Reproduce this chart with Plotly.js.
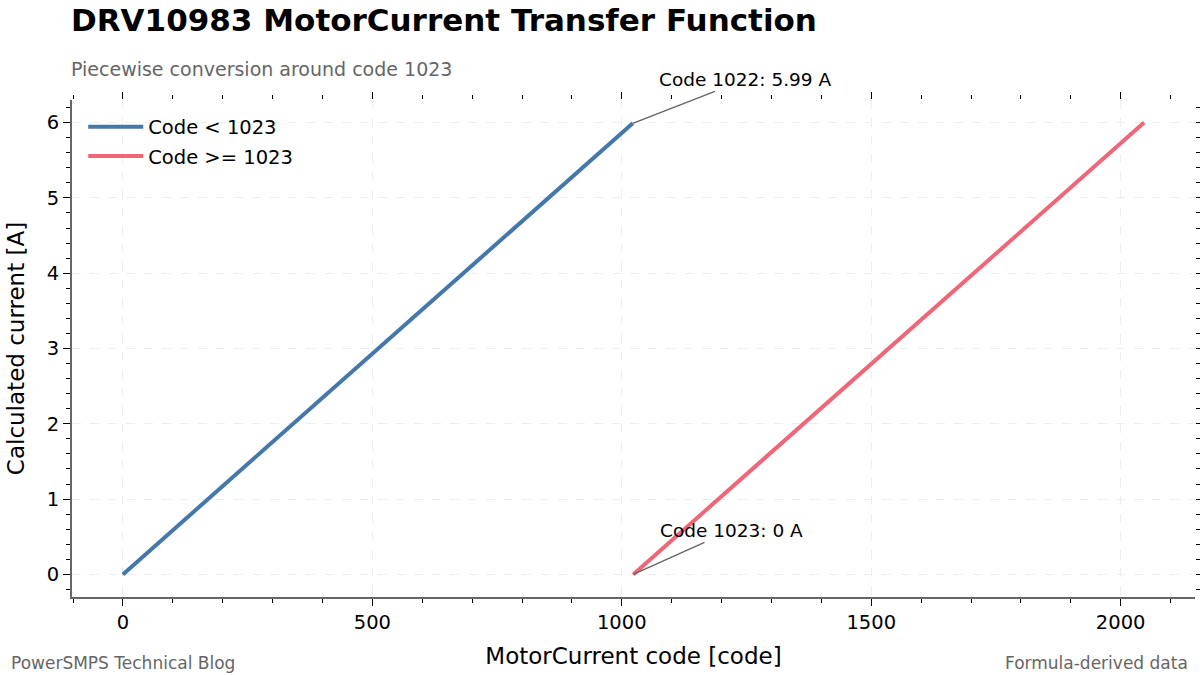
<!DOCTYPE html>
<html>
<head>
<meta charset="utf-8">
<script src="https://cdn.plot.ly/plotly-3.0.1.min.js"></script>
<style>
  body { margin: 0; background: #fff; }
  #chart { width: 1200px; height: 675px; }
</style>
</head>
<body>
<div id="chart"></div>
<script>
// code ranges and the calculated current on each side of 1023
var lowCodes = [0, 1022];
var lowAmps = [0, 5.99];
var highCodes = [1023, 2047];
var highAmps = [0, 6.0];

var xTicks = [0, 500, 1000, 1500, 2000];
var yTicks = [0, 1, 2, 3, 4, 5, 6];

var font = "DejaVu Sans, sans-serif";

var trace1 = {
  x: lowCodes,
  y: lowAmps,
  type: "scatter",
  mode: "lines",
  name: "Code < 1023",
  legendgroup: "low",
  line: { color: "#4477AA", width: 4 }
};

var trace2 = {
  x: highCodes,
  y: highAmps,
  type: "scatter",
  mode: "lines",
  name: "Code >= 1023",
  legendgroup: "high",
  line: { color: "#EE6677", width: 4 }
};

// invisible trace so the mirrored top/right tick axes get drawn
var mirrorTrace = { x: [lowCodes[0]], y: [lowAmps[0]], xaxis: "x2", yaxis: "y2",
  mode: "markers", marker: { opacity: 0 }, showlegend: false, hoverinfo: "skip" };

var xrange = [-102, 2149];
var yrange = [-0.3, 6.3];

var layout = {
  width: 1200,
  height: 675,
  paper_bgcolor: "#fff",
  plot_bgcolor: "#fff",
  font: { family: font, color: "#000" },
  margin: { l: 72, r: 5, t: 100, b: 78 },
  title: {
    text: "<b>DRV10983 MotorCurrent Transfer Function</b>",
    font: { family: font, size: 31, color: "#000" },
    x: 71 / 1200, xref: "container", xanchor: "left",
    y: 1 - 20 / 675, yref: "container", yanchor: "middle"
  },
  showlegend: true,
  legend: {
    x: 0.01, y: 0.985, xanchor: "left", yanchor: "top",
    bgcolor: "rgba(0,0,0,0)",
    font: { family: font, size: 19.5, color: "#000" },
    itemwidth: 55,
    tracegroupgap: 1
  },
  xaxis: {
    range: xrange,
    tickvals: xTicks,
    ticks: "outside", ticklen: 7, tickwidth: 1, tickcolor: "#000",
    tickfont: { family: font, size: 19.5, color: "#000" },
    minor: { dtick: 100, tick0: 0, ticks: "outside", ticklen: 4, tickcolor: "#000", showgrid: false },
    showgrid: true, gridcolor: "#eeeeee", griddash: "dash", gridwidth: 1,
    showline: true, linecolor: "#666", linewidth: 2,
    zeroline: false,
    title: { text: "MotorCurrent code [code]", font: { family: font, size: 23, color: "#000" }, standoff: 14 }
  },
  yaxis: {
    range: yrange,
    tickvals: yTicks,
    ticks: "outside", ticklen: 7, tickwidth: 1, tickcolor: "#000",
    tickfont: { family: font, size: 19.5, color: "#000" },
    minor: { dtick: 0.2, tick0: 0, ticks: "outside", ticklen: 4, tickcolor: "#000", showgrid: false },
    showgrid: true, gridcolor: "#eeeeee", griddash: "dash", gridwidth: 1,
    showline: true, linecolor: "#666", linewidth: 2,
    zeroline: false,
    title: { text: "Calculated current [A]", font: { family: font, size: 23, color: "#000" }, standoff: 16 }
  },
  xaxis2: {
    overlaying: "x", side: "top", range: xrange, tickvals: xTicks,
    ticks: "outside", ticklen: 7, tickcolor: "#000", showticklabels: false,
    minor: { dtick: 100, tick0: 0, ticks: "outside", ticklen: 4, tickcolor: "#000", showgrid: false },
    showgrid: false, showline: false, zeroline: false
  },
  yaxis2: {
    overlaying: "y", side: "right", range: yrange, tickvals: yTicks,
    ticks: "outside", ticklen: 7, tickcolor: "#000", showticklabels: false,
    minor: { dtick: 0.2, tick0: 0, ticks: "outside", ticklen: 4, tickcolor: "#000", showgrid: false },
    showgrid: false, showline: false, zeroline: false
  },
  annotations: [
    {
      text: "Piecewise conversion around code 1023",
      xref: "paper", yref: "paper", x: 0, y: 1,
      xanchor: "left", yanchor: "bottom", xshift: -3, yshift: 18,
      showarrow: false,
      font: { family: font, size: 19, color: "#666" }
    },
    {
      text: "Code " + lowCodes[1] + ": " + lowAmps[1] + " A",
      x: lowCodes[1], y: lowAmps[1], xref: "x", yref: "y",
      showarrow: true, arrowhead: 0, arrowwidth: 1.5, arrowcolor: "#666",
      ax: 113, ay: -44,
      font: { family: font, size: 18.5, color: "#000" }
    },
    {
      text: "Code " + highCodes[0] + ": " + highAmps[0] + " A",
      x: highCodes[0], y: highAmps[0], xref: "x", yref: "y",
      showarrow: true, arrowhead: 0, arrowwidth: 1.5, arrowcolor: "#666",
      ax: 98, ay: -44,
      font: { family: font, size: 18.5, color: "#000" }
    },
    {
      text: "PowerSMPS Technical Blog",
      xref: "paper", yref: "paper", x: -60 / 1123, y: 0,
      xanchor: "left", yanchor: "middle", xshift: -3, yshift: -66,
      showarrow: false,
      font: { family: font, size: 17, color: "#666" }
    },
    {
      text: "Formula-derived data",
      xref: "paper", yref: "paper", x: 1, y: 0,
      xanchor: "right", yanchor: "middle", xshift: -5, yshift: -66,
      showarrow: false,
      font: { family: font, size: 17, color: "#666" }
    }
  ]
};

Plotly.newPlot("chart", [trace1, trace2, mirrorTrace], layout, { displayModeBar: false, staticPlot: true });
</script>
</body>
</html>
